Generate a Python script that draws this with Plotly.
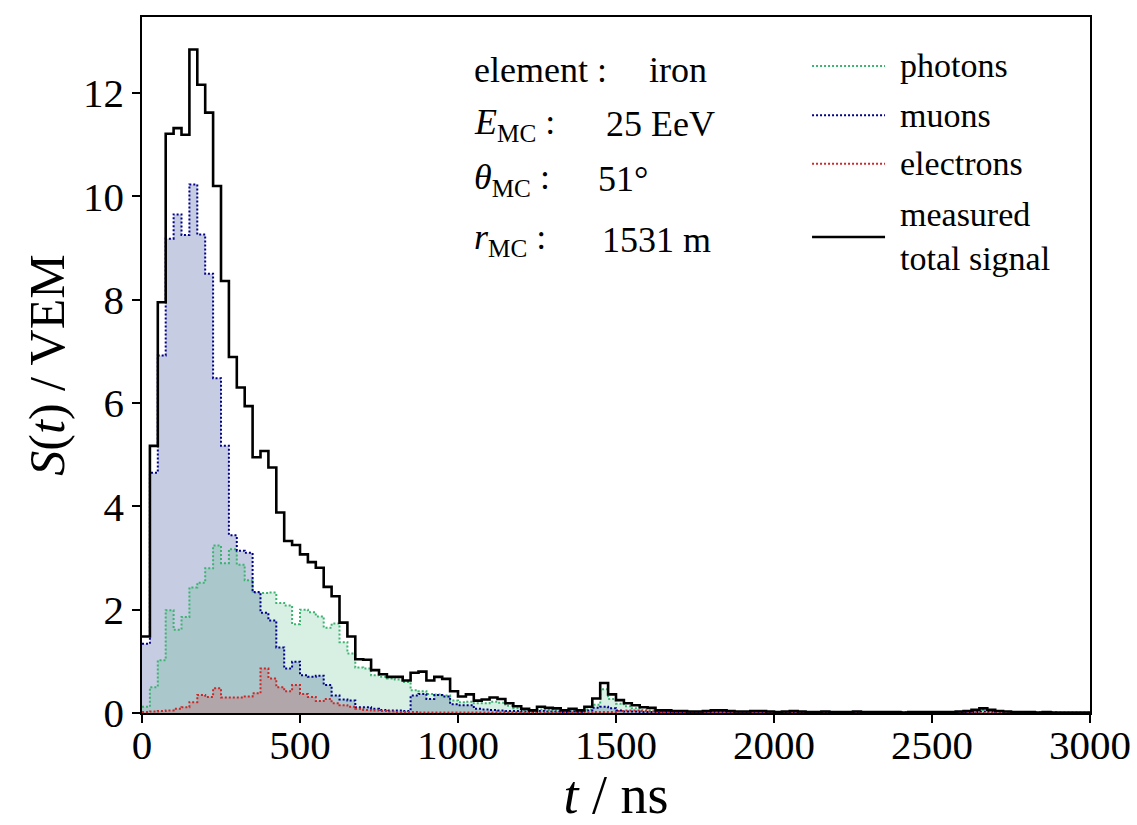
import numpy as np
import plotly.graph_objects as go

# ---- data (bin width 25 ns, 0 .. 3000 ns) ----
bin_width = 25
t_min, t_max = 0, 3000

total = [1.48, 5.17, 7.95, 11.21, 11.32, 11.19, 12.84, 12.16, 11.62, 10.20,
         8.36, 6.89, 6.30, 5.94, 4.95, 5.07, 4.75, 3.88, 3.33, 3.25,
         3.07, 2.92, 2.81, 2.44, 2.26, 1.75, 1.48, 1.04, 1.03, 0.83,
         0.75, 0.70, 0.70, 0.63, 0.78, 0.80, 0.63, 0.70, 0.66, 0.42,
         0.32, 0.36, 0.24, 0.26, 0.30, 0.27, 0.19, 0.13, 0.08, 0.05,
         0.12, 0.10, 0.09, 0.05, 0.08, 0.05, 0.12, 0.28, 0.58, 0.36,
         0.25, 0.19, 0.15, 0.11, 0.10, 0.05, 0.05, 0.04, 0.04, 0.03,
         0.03, 0.04, 0.05, 0.05, 0.04, 0.03, 0.03, 0.04, 0.04, 0.03,
         0.02, 0.03, 0.04, 0.03, 0.02, 0.02, 0.03, 0.02, 0.02, 0.02,
         0.03, 0.02, 0.02, 0.02, 0.02, 0.02, 0.01, 0.02, 0.02, 0.02,
         0.02, 0.02, 0.02, 0.03, 0.04, 0.06, 0.09, 0.06, 0.04, 0.03,
         0.02, 0.02, 0.02, 0.01, 0.02, 0.01, 0.01, 0.01, 0.01, 0.01]

photons = [0.12, 0.50, 1.02, 1.99, 1.61, 1.86, 2.43, 2.52, 2.80, 3.24,
           2.90, 3.17, 2.87, 2.57, 2.32, 2.32, 2.33, 2.13, 2.08, 1.72,
           2.00, 1.95, 1.87, 1.65, 1.73, 1.37, 1.15, 0.88, 0.86, 0.73,
           0.70, 0.67, 0.65, 0.60, 0.44, 0.42, 0.37, 0.36, 0.34, 0.24,
           0.21, 0.22, 0.19, 0.19, 0.22, 0.20, 0.14, 0.09, 0.06, 0.04,
           0.07, 0.06, 0.05, 0.03, 0.05, 0.03, 0.07, 0.16, 0.46, 0.27,
           0.18, 0.13, 0.09, 0.06, 0.05, 0.03, 0.03, 0.03, 0.03, 0.02,
           0.02, 0.03, 0.03, 0.03, 0.03, 0.02, 0.02, 0.03, 0.03, 0.02,
           0.01, 0.02, 0.03, 0.02, 0.01, 0.01, 0.02, 0.01, 0.01, 0.01,
           0.02, 0.01, 0.01, 0.01, 0.01, 0.01, 0.01, 0.01, 0.01, 0.01,
           0.01, 0.01, 0.01, 0.02, 0.03, 0.04, 0.06, 0.04, 0.03, 0.02,
           0.01, 0.01, 0.01, 0.01, 0.01, 0.01, 0.01, 0.01, 0.01, 0.01]

muons = [1.34, 4.65, 6.92, 9.18, 9.65, 9.25, 10.23, 9.26, 8.50, 6.48,
         5.17, 3.44, 3.14, 3.10, 2.34, 1.94, 1.79, 1.27, 0.86, 0.99,
         0.73, 0.70, 0.72, 0.54, 0.34, 0.26, 0.24, 0.11, 0.11, 0.08,
         0.06, 0.05, 0.05, 0.04, 0.34, 0.37, 0.27, 0.35, 0.32, 0.17,
         0.15, 0.15, 0.08, 0.07, 0.06, 0.05, 0.04, 0.04, 0.03, 0.02,
         0.04, 0.03, 0.03, 0.02, 0.03, 0.02, 0.05, 0.10, 0.12, 0.09,
         0.05, 0.03, 0.03, 0.02, 0.02, 0.01, 0.02, 0.02, 0.02, 0.02,
         0.02, 0.02, 0.02, 0.02, 0.02, 0.02, 0.02, 0.02, 0.02, 0.02,
         0.01, 0.01, 0.01, 0.01, 0.01, 0.01, 0.01, 0.01, 0.01, 0.01,
         0.01, 0.01, 0.01, 0.01, 0.01, 0.01, 0.01, 0.01, 0.01, 0.01,
         0.01, 0.01, 0.01, 0.01, 0.01, 0.02, 0.03, 0.02, 0.01, 0.01,
         0.01, 0.01, 0.01, 0.01, 0.01, 0.01, 0.00, 0.00, 0.00, 0.00]

electrons = [0.02, 0.03, 0.04, 0.05, 0.08, 0.11, 0.21, 0.35, 0.31, 0.48,
             0.30, 0.30, 0.30, 0.32, 0.38, 0.86, 0.67, 0.50, 0.42, 0.54,
             0.37, 0.31, 0.23, 0.27, 0.19, 0.15, 0.12, 0.08, 0.06, 0.05,
             0.04, 0.03, 0.02, 0.02, 0.02, 0.01, 0.01, 0.01, 0.01, 0.01,
             0.01, 0.01, 0.01, 0.01, 0.01, 0.01, 0.01, 0.01, 0.01, 0.01,
             0.01, 0.01, 0.01, 0.01, 0.01, 0.01, 0.01, 0.02, 0.02, 0.02,
             0.04, 0.05, 0.05, 0.04, 0.03, 0.02, 0.01, 0.01, 0.01, 0.01,
             0.01, 0.00, 0.00, 0.00, 0.00, 0.00, 0.00, 0.00, 0.00, 0.00,
             0.00, 0.00, 0.00, 0.00, 0.00, 0.00, 0.00, 0.00, 0.00, 0.00,
             0.00, 0.00, 0.00, 0.00, 0.00, 0.00, 0.00, 0.00, 0.00, 0.00,
             0.00, 0.00, 0.00, 0.00, 0.00, 0.00, 0.00, 0.00, 0.00, 0.00,
             0.00, 0.00, 0.00, 0.00, 0.00, 0.00, 0.00, 0.00, 0.00, 0.00]

x_ticks = [0, 500, 1000, 1500, 2000, 2500, 3000]
y_ticks = [0, 2, 4, 6, 8, 10, 12]

info_labels = ["element :", "<i>E</i><sub>MC</sub> :", "<i>θ</i><sub>MC</sub> :", "<i>r</i><sub>MC</sub> :"]
info_values = ["iron", "25 EeV", "51°", "1531 m"]

legend_labels = ["photons", "muons", "electrons", "measured<br>total signal"]

# ---- styling ----
FONT = "Liberation Serif"
c_ph, f_ph = "rgb(60,179,113)", "rgba(60,179,113,0.20)"
c_mu, f_mu = "rgb(0,0,139)", "rgba(10,35,130,0.23)"
c_el, f_el = "rgb(205,40,40)", "rgba(205,40,40,0.20)"
c_tot = "black"

edges = np.arange(t_min, t_max + bin_width, bin_width)


def step_y(vals):
    return list(vals) + [vals[-1]]


fig = go.Figure()

# filled areas
for vals, fc in [(muons, f_mu), (photons, f_ph), (electrons, f_el)]:
    fig.add_trace(go.Scatter(x=edges, y=step_y(vals), mode="lines",
                             line=dict(width=0, shape="hv"),
                             fill="tozeroy", fillcolor=fc,
                             showlegend=False, hoverinfo="skip"))

# dotted outlines
for vals, lc in [(photons, c_ph), (muons, c_mu), (electrons, c_el)]:
    fig.add_trace(go.Scatter(x=edges, y=step_y(vals), mode="lines",
                             line=dict(color=lc, width=2, shape="hv", dash="2px,2px"),
                             showlegend=False))

# total
fig.add_trace(go.Scatter(x=edges, y=step_y(total), mode="lines",
                         line=dict(color=c_tot, width=2.6, shape="hv"),
                         showlegend=False))

# info text block
info_y = [0.924, 0.846, 0.767, 0.680]
info_val_x = [0.5327, 0.4873, 0.4789, 0.4831]
for lab, val, yy, vx in zip(info_labels, info_values, info_y, info_val_x):
    fig.add_annotation(x=0.3481, y=yy, xref="paper", yref="paper", text=lab,
                       showarrow=False, xanchor="left", yanchor="middle",
                       font=dict(family=FONT, size=36, color="black"))
    fig.add_annotation(x=vx, y=yy, xref="paper", yref="paper", text=val,
                       showarrow=False, xanchor="left", yanchor="middle",
                       font=dict(family=FONT, size=36, color="black"))

# manual legend
leg_y = [0.9296, 0.859, 0.789, 0.684]
leg_styles = [(c_ph, "2px,2px", 2), (c_mu, "2px,2px", 2), (c_el, "2px,2px", 2), (c_tot, "solid", 2.6)]
for lab, yy, (lc, dsh, lw) in zip(legend_labels, leg_y, leg_styles):
    fig.add_shape(type="line", xref="paper", yref="paper",
                  x0=0.7068, x1=0.7838, y0=yy, y1=yy,
                  line=dict(color=lc, width=lw, dash=dsh))
    fig.add_annotation(x=0.7975, y=yy, xref="paper", yref="paper", text=lab,
                       showarrow=False, xanchor="left", yanchor="middle", align="left",
                       font=dict(family=FONT, size=34, color="black"))

axis_common = dict(showline=True, linecolor="black", linewidth=1.5, mirror=True,
                   ticks="outside", ticklen=8, tickwidth=1.5, tickcolor="black",
                   showgrid=False, zeroline=False,
                   tickfont=dict(family=FONT, size=41, color="black"))

fig.update_xaxes(range=[t_min, t_max], tickvals=x_ticks, ticktext=[str(v) for v in x_ticks],
                 ticklabelstandoff=-13,
                 title=dict(text="<i>t</i> / ns", font=dict(family=FONT, size=54, color="black"),
                            standoff=6),
                 **axis_common)
fig.update_yaxes(range=[0, 13.47], tickvals=y_ticks, ticktext=[str(v) for v in y_ticks],
                 title=dict(text="<i>S</i>(<i>t</i>) / VEM", font=dict(family=FONT, size=50, color="black"),
                            standoff=3),
                 **axis_common)

fig.update_layout(width=1137, height=825,
                  margin=dict(l=142, r=47, t=17, b=112, autoexpand=False),
                  paper_bgcolor="white", plot_bgcolor="white",
                  showlegend=False)

fig.write_html("out.html")
